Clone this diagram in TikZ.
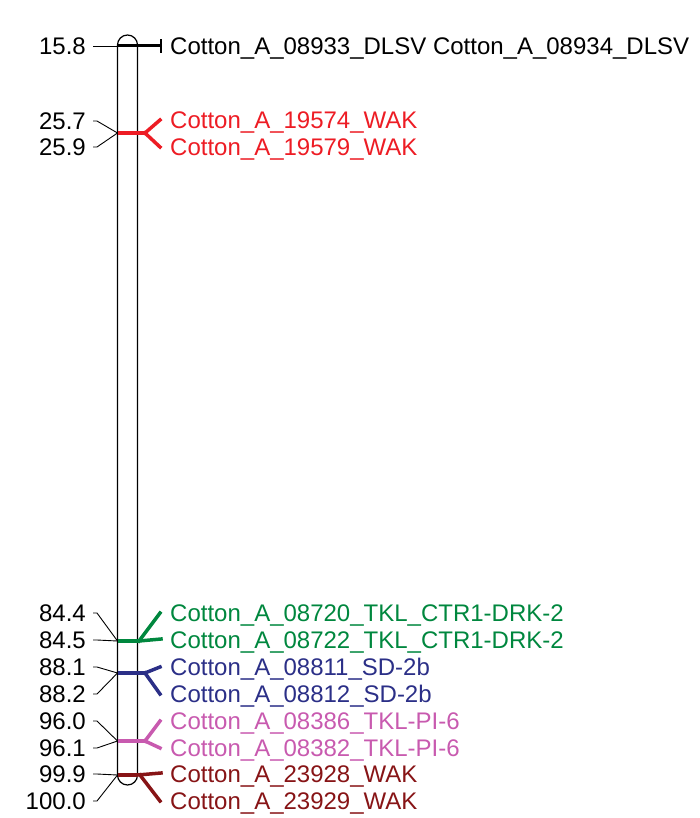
\documentclass[tikz,border=0pt]{standalone}
\usepackage{fontspec}
\setmainfont{Liberation Sans}
\definecolor{cred}{RGB}{237,28,36}
\definecolor{cgreen}{RGB}{0,135,62}
\definecolor{cblue}{RGB}{43,47,135}
\definecolor{cpink}{RGB}{200,90,175}
\definecolor{cdred}{RGB}{135,20,22}
\begin{document}
\begin{tikzpicture}[x=1pt,y=-1pt,
  txt/.style={inner sep=0pt,font=\fontsize{24}{28}\selectfont,text height=17.2pt,text depth=0pt},
  num/.style={txt,anchor=east},
  lab/.style={txt,anchor=west},
  tick/.style={line width=0.9pt,black},
  mk/.style={line width=4pt},
  br/.style={line width=3.5pt,line cap=rect},
  chrom/.style={line width=1.2pt}]
\useasboundingbox (0,0) rectangle (699,818);
% chromosome
\draw[chrom] (117.5,775) -- (117.5,45) arc[start angle=180,end angle=0,radius=10pt]
  -- (137.5,775) arc[start angle=0,end angle=-180,radius=10pt] -- cycle;
% marker coordinates
\coordinate (aL) at (117.5,46);  \coordinate (aR) at (161,46);
\coordinate (bL) at (117.5,133); \coordinate (bR) at (137.5,133); \coordinate (bJ) at (145,133);
\coordinate (cL) at (117.5,641); \coordinate (cR) at (137.5,641); \coordinate (cJ) at (139,641);
\coordinate (dL) at (117.5,673); \coordinate (dR) at (137.5,673); \coordinate (dJ) at (145,673);
\coordinate (eL) at (117.5,741); \coordinate (eR) at (137.5,741); \coordinate (eJ) at (145,741);
\coordinate (fL) at (117.5,775); \coordinate (fR) at (137.5,775); \coordinate (fJ) at (140,775);
% left labels
\node[num] (n1) at (86,46) {15.8};
\node[num] (n2) at (86,121) {25.7};
\node[num] (n3) at (86,147) {25.9};
\node[num] (n4) at (86,613) {84.4};
\node[num] (n5) at (86,640) {84.5};
\node[num] (n6) at (86,667) {88.1};
\node[num] (n7) at (86,694) {88.2};
\node[num] (n8) at (86,721) {96.0};
\node[num] (n9) at (86,748) {96.1};
\node[num] (n10) at (86,774) {99.9};
\node[num] (n11) at (86,801) {100.0};
% right labels
\node[lab] (r1) at (170,46) {Cotton\_A\_08933\_DLSV Cotton\_A\_08934\_DLSV};
\node[lab,text=cred] (r2) at (170,120) {Cotton\_A\_19574\_WAK};
\node[lab,text=cred] (r3) at (170,147) {Cotton\_A\_19579\_WAK};
\node[lab,text=cgreen] (r4) at (170,613) {Cotton\_A\_08720\_TKL\_CTR1-DRK-2};
\node[lab,text=cgreen] (r5) at (170,640) {Cotton\_A\_08722\_TKL\_CTR1-DRK-2};
\node[lab,text=cblue] (r6) at (170,667) {Cotton\_A\_08811\_SD-2b};
\node[lab,text=cblue] (r7) at (170,694) {Cotton\_A\_08812\_SD-2b};
\node[lab,text=cpink] (r8) at (170,721) {Cotton\_A\_08386\_TKL-PI-6};
\node[lab,text=cpink] (r9) at (170,748) {Cotton\_A\_08382\_TKL-PI-6};
\node[lab,text=cdred] (r10) at (170,774) {Cotton\_A\_23928\_WAK};
\node[lab,text=cdred] (r11) at (170,801) {Cotton\_A\_23929\_WAK};
% left ticks
\draw[tick] ([xshift=7pt]n1.east) -- (aL);
\draw[tick] ([xshift=7pt]n2.east) -- ++(4,0) -- (bL);
\draw[tick] ([xshift=7pt]n3.east) -- ++(4,0) -- (bL);
\draw[tick] ([xshift=7pt]n4.east) -- ++(4,0) -- (cL);
\draw[tick] ([xshift=7pt]n5.east) -- ++(4,0) -- (cL);
\draw[tick] ([xshift=7pt]n6.east) -- ++(4,0) -- (dL);
\draw[tick] ([xshift=7pt]n7.east) -- ++(4,0) -- (dL);
\draw[tick] ([xshift=7pt]n8.east) -- ++(4,0) -- (eL);
\draw[tick] ([xshift=7pt]n9.east) -- ++(4,0) -- (eL);
\draw[tick] ([xshift=7pt]n10.east) -- ++(4,0) -- (fL);
\draw[tick] ([xshift=7pt]n11.east) -- ++(4,0) -- (fL);
% top marker
\draw[line width=3pt] (aL) -- (aR);
\draw[line width=1.5pt] ([yshift=-7pt]aR) -- ([yshift=7pt]aR);
% red
\draw[mk,cred] (bL) -- (bJ);
\draw[br,cred] (bJ) -- ([xshift=-10pt]r2.west);
\draw[br,cred] (bJ) -- ([xshift=-10pt]r3.west);
% green
\draw[mk,cgreen] (cL) -- (cR);
\draw[br,cgreen] (cJ) -- ([xshift=-10pt]r4.west);
\draw[br,cgreen] (cJ) -- ([xshift=-9pt,yshift=1pt]r5.west);
% blue
\draw[mk,cblue] (dL) -- (dJ);
\draw[br,cblue] (dJ) -- ([xshift=-10pt]r6.west);
\draw[br,cblue] (dJ) -- ([xshift=-10pt]r7.west);
% pink
\draw[mk,cpink] (eL) -- (eJ);
\draw[br,cpink] (eJ) -- ([xshift=-10pt]r8.west);
\draw[br,cpink] (eJ) -- ([xshift=-10pt]r9.west);
% dark red
\draw[mk,cdred] (fL) -- (fR);
\draw[br,cdred] (fR) -- ([xshift=-9pt,yshift=1pt]r10.west);
\draw[br,cdred] (fJ) -- ([xshift=-10pt]r11.west);
\end{tikzpicture}
\end{document}
